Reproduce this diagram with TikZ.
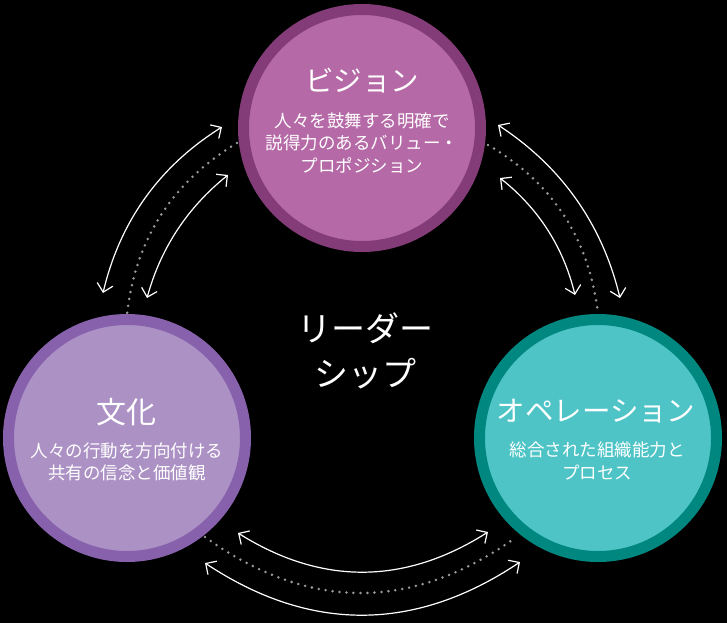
\documentclass[tikz,border=0pt]{standalone}
\usepackage{fontspec}
\setmainfont{Noto Sans CJK JP}
\usetikzlibrary{arrows.meta,calc}
\definecolor{visring}{HTML}{843C78}
\definecolor{visfill}{HTML}{B56AA7}
\definecolor{culring}{HTML}{8761AC}
\definecolor{culfill}{HTML}{AC91C5}
\definecolor{opsring}{HTML}{00877F}
\definecolor{opsfill}{HTML}{4EC4C7}
\definecolor{dotgray}{HTML}{9A9A9A}
\begin{document}
\begin{tikzpicture}[x=1pt,y=-1pt,
  ring/.style={circle, inner sep=0pt, outer sep=0pt, minimum size=237pt, line width=11pt},
  ttl/.style={text=white, inner sep=0pt, font=\fontsize{28.5}{32}\selectfont},
  subtxt/.style={text=white, inner sep=0pt, align=center, font=\fontsize{17.5}{22.5}\selectfont},
  lead/.style={text=white, inner sep=0pt, align=center, font=\fontsize{34}{45}\selectfont},
  flow/.style={draw=white, line width=1.2pt, {Straight Barb[length=8pt,width=16pt]}-{Straight Barb[length=8pt,width=16pt]}},
  dots/.style={draw=dotgray, line width=2.8pt, line cap=round, dash pattern=on 0pt off 7pt}]
\fill[black] (0,0) rectangle (727,623);
\useasboundingbox (0,0) rectangle (727,623);

% circles
\node[ring, draw=visring, fill=visfill] (vis) at (362,128) {};
\node[ring, draw=culring, fill=culfill] (cul) at (127,438) {};
\node[ring, draw=opsring, fill=opsfill] (ops) at (598,438) {};

% texts
\node[ttl] (vist) at (362,81) {ビジョン};
\node[subtxt] (viss) at (362,143) {人々を鼓舞する明確で\\説得力のあるバリュー・\\プロポジション};
\node[ttl, font=\fontsize{30}{34}\selectfont] (cult) at (126,412) {文化};
\node[subtxt] (culs) at (127,462) {人々の行動を方向付ける\\共有の信念と価値観};
\node[ttl] (opst) at (596,411) {オペレーション};
\node[subtxt] (opss) at (597,461) {総合された組織能力と\\プロセス};
\node[lead] (lead) at (365,351) {リーダー\\シップ};

% dotted links
\coordinate (d1a) at (237,143); \coordinate (d1b) at (127,314); \coordinate (d1q) at (140,201.5);
\coordinate (d2a) at (488,145); \coordinate (d2b) at (598,314); \coordinate (d2q) at (585,201.5);
\coordinate (d3a) at (205,537); \coordinate (d3b) at (515,538); \coordinate (d3q) at (360,648.5);
\foreach \i in {1,2,3}{
  \draw[dots] (d\i a) .. controls ($(d\i a)!2/3!(d\i q)$) and ($(d\i b)!2/3!(d\i q)$) .. (d\i b);
}

% arrows
\coordinate (a1a) at (222,127); \coordinate (a1b) at (103,293); \coordinate (a1q) at (128.4,185.5);
\coordinate (a2a) at (228,175); \coordinate (a2b) at (147,298); \coordinate (a2q) at (167.5,223.3);
\coordinate (a3a) at (498,125); \coordinate (a3b) at (620,298); \coordinate (a3q) at (593.3,187.3);
\coordinate (a4a) at (500,178); \coordinate (a4b) at (575,295); \coordinate (a4q) at (557.7,223.5);
\coordinate (a5a) at (238,533); \coordinate (a5b) at (488,532); \coordinate (a5q) at (363,611.5);
\coordinate (a6a) at (205,563); \coordinate (a6b) at (520,562); \coordinate (a6q) at (362.5,667.5);
\foreach \i in {1,...,6}{
  \draw[flow] (a\i a) .. controls ($(a\i a)!2/3!(a\i q)$) and ($(a\i b)!2/3!(a\i q)$) .. (a\i b);
}
\end{tikzpicture}
\end{document}
